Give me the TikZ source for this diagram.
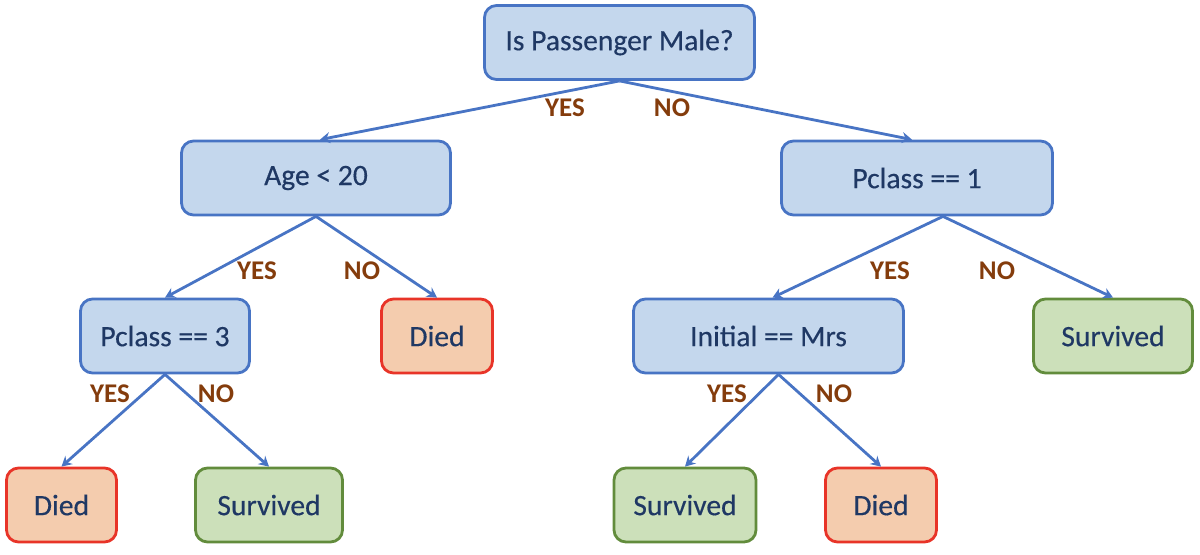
\documentclass[tikz,border=0pt]{standalone}
\usepackage{fontspec}
\setmainfont{Carlito}
\newfontfamily\boxfont[FakeBold=0.35]{Carlito}
\usetikzlibrary{arrows.meta}
\definecolor{qfill}{RGB}{196,215,237}
\definecolor{qline}{RGB}{72,116,196}
\definecolor{qtext}{RGB}{31,56,100}
\definecolor{dfill}{RGB}{244,204,174}
\definecolor{dline}{RGB}{232,52,40}
\definecolor{sfill}{RGB}{204,224,186}
\definecolor{sline}{RGB}{98,140,60}
\definecolor{ansbrown}{RGB}{132,60,12}

\begin{document}
\begin{tikzpicture}[x=0.5pt,y=0.5pt,
  box/.style={rounded corners=6pt, line width=1.4pt, minimum height=37pt, text=qtext, font=\boxfont\fontsize{14.8}{17}\selectfont},
  question/.style={box, draw=qline, fill=qfill},
  died/.style={box, draw=dline, fill=dfill},
  survived/.style={box, draw=sline, fill=sfill},
  answer/.style={text=ansbrown, font=\fontsize{13.5}{16}\selectfont\bfseries},
  branch/.style={qline, line width=1.4pt, -{Stealth[length=5pt,width=5.5pt]}}]
\useasboundingbox (0,0) rectangle (1200,-554);
\node[question, minimum width=135pt] (root) at (619.5,-42.5) {Is Passenger Male?};
\node[question, minimum width=134.5pt] (age) at (316,-178) {Age < 20};
\node[question, minimum width=135.5pt] (pcone) at (917,-178) {Pclass == 1};
\node[question, minimum width=84.5pt] (pcthree) at (165,-336) {Pclass == 3};
\node[died, minimum width=55.5pt] (diedA) at (437,-336) {Died};
\node[question, minimum width=135pt] (mrs) at (768.5,-336) {Initial == Mrs};
\node[survived, minimum width=79.5pt] (survA) at (1113,-336) {Survived};
\node[died, minimum width=55pt] (diedB) at (61.5,-505) {Died};
\node[survived, minimum width=73.5pt] (survB) at (269,-505) {Survived};
\node[survived, minimum width=71pt] (survC) at (685,-505) {Survived};
\node[died, minimum width=55.5pt] (diedC) at (881,-505) {Died};
\draw[branch] (root.south) -- ([xshift=2pt]age.north);
\draw[branch] (root.south) -- ([xshift=-2.5pt]pcone.north);
\draw[branch] (age.south) -- (pcthree.north);
\draw[branch] (age.south) -- (diedA.north);
\draw[branch] ([xshift=13pt]pcone.south) -- ([xshift=2pt]mrs.north);
\draw[branch] ([xshift=13pt]pcone.south) -- (survA.north);
\draw[branch] (pcthree.south) -- (diedB.north);
\draw[branch] (pcthree.south) -- (survB.north);
\draw[branch] ([xshift=5pt]mrs.south) -- (survC.north);
\draw[branch] ([xshift=5pt]mrs.south) -- (diedC.north);
\node[answer] (yesA) at (565,-108) {YES};
\node[answer] (noA) at (672,-108) {NO};
\node[answer] (yesB) at (257,-271) {YES};
\node[answer] (noB) at (362,-271) {NO};
\node[answer] (yesC) at (890,-271) {YES};
\node[answer] (noC) at (997,-271) {NO};
\node[answer] (yesD) at (110,-394) {YES};
\node[answer] (noD) at (216,-394) {NO};
\node[answer] (yesE) at (727,-394) {YES};
\node[answer] (noE) at (834,-394) {NO};
\end{tikzpicture}
\end{document}
